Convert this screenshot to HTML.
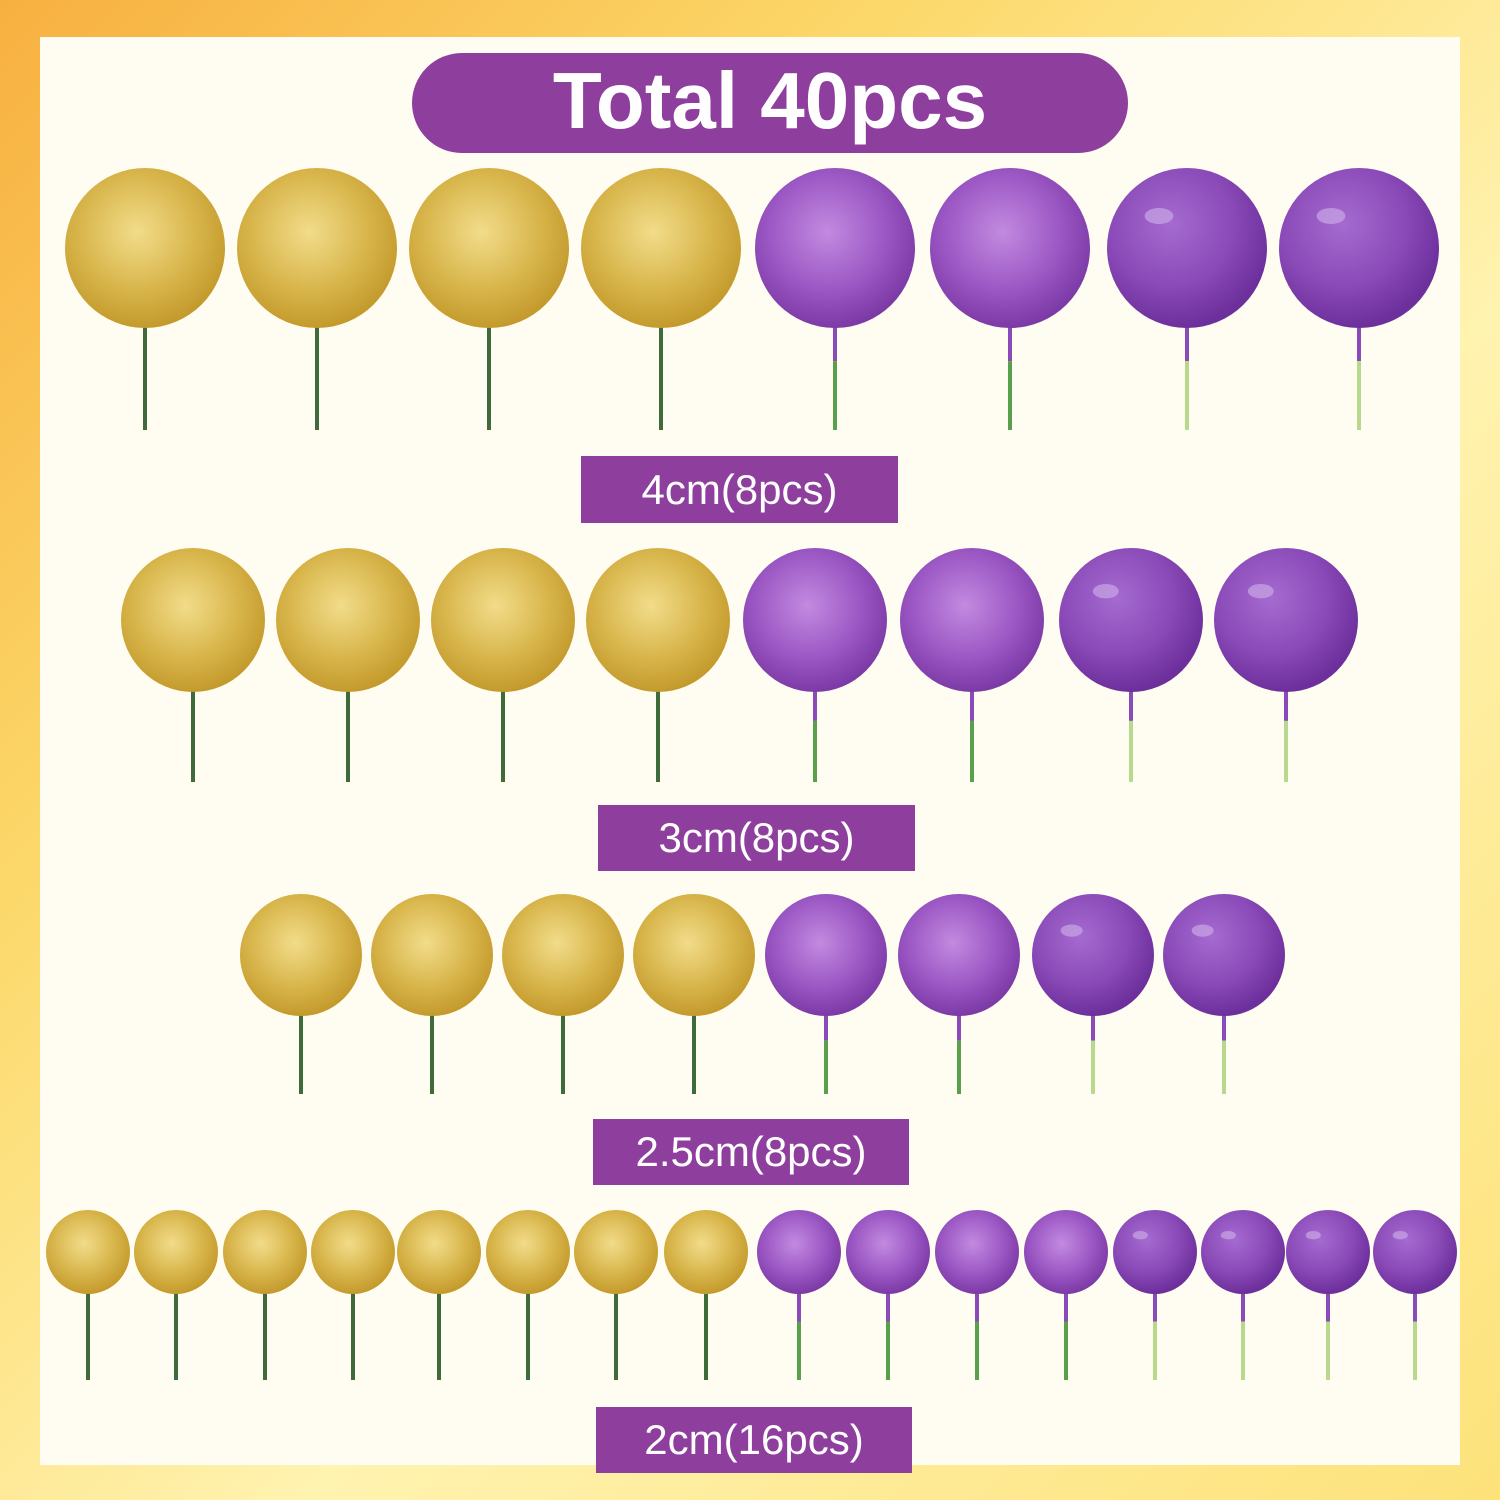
<!DOCTYPE html>
<html><head><meta charset="utf-8"><style>
html,body{margin:0;padding:0;width:1500px;height:1500px;overflow:hidden}
body{background:linear-gradient(135deg,#f7b040 0%,#fcd86a 30%,#fff3b0 60%,#fde27a 100%)}
#panel{position:absolute;left:40px;top:37px;width:1420px;height:1428px;background:#fffdf1}
.lbl{position:absolute;background:#8e3f9e;color:#fff;font-family:"Liberation Sans",sans-serif;text-align:center}
svg{position:absolute;left:0;top:0}
</style></head><body>
<div id="panel"></div>
<svg id="s" width="1500" height="1500">
<defs>
<radialGradient id="gold" cx="45%" cy="40%" r="60%"><stop offset="0" stop-color="#f2dc8a"/><stop offset="0.6" stop-color="#d8b64c"/><stop offset="1" stop-color="#c49a2c"/></radialGradient>
<radialGradient id="pg" cx="45%" cy="40%" r="60%"><stop offset="0" stop-color="#c28ae0"/><stop offset="0.6" stop-color="#9c58c4"/><stop offset="1" stop-color="#7c3aa6"/></radialGradient>
<radialGradient id="pm" cx="40%" cy="35%" r="65%"><stop offset="0" stop-color="#a56bd0"/><stop offset="0.6" stop-color="#8a4ab8"/><stop offset="1" stop-color="#6c2f9c"/></radialGradient>
</defs>
</svg>
<div class="lbl" style="left:412px;top:53px;width:716px;height:100px;border-radius:50px;font-size:80px;font-weight:bold;line-height:96px">Total 40pcs</div>
<div class="lbl" style="left:581px;top:456px;width:317px;height:67px;font-size:42px;line-height:67px">4cm(8pcs)</div>
<div class="lbl" style="left:598px;top:805px;width:317px;height:66px;font-size:42px;line-height:66px">3cm(8pcs)</div>
<div class="lbl" style="left:593px;top:1119px;width:316px;height:66px;font-size:42px;line-height:66px">2.5cm(8pcs)</div>
<div class="lbl" style="left:596px;top:1407px;width:316px;height:66px;font-size:42px;line-height:66px">2cm(16pcs)</div>
<script>
var s=document.getElementById('s'),ns='http://www.w3.org/2000/svg';
function el(t,a){var e=document.createElementNS(ns,t);for(var k in a)e.setAttribute(k,a[k]);s.appendChild(e);}
var rows=[
 {xs:[145,317,489,661,835,1010,1187,1359],y:248,r:80,b:430,t:['g','g','g','g','p','p','m','m']},
 {xs:[193,348,503,658,815,972,1131,1286],y:620,r:72,b:782,t:['g','g','g','g','p','p','m','m']},
 {xs:[301,432,563,694,826,959,1093,1224],y:955,r:61,b:1094,t:['g','g','g','g','p','p','m','m']},
 {xs:[88,176,265,353,439,528,616,706,799,888,977,1066,1155,1243,1328,1415],y:1252,r:42,b:1380,t:'ggggggggppppmmmm'.split('')}
];
rows.forEach(function(R){R.xs.forEach(function(x,i){var t=R.t[i];
 var top=R.y+R.r-4,mid=top+(R.b-top)*0.35;
 if(t=='g'){el('line',{x1:x,y1:top,x2:x,y2:R.b,stroke:'#3f6a3a','stroke-width':4});}
 else{var c=t=='p'?'#5aa04c':'#b8d88e';
  el('line',{x1:x,y1:top,x2:x,y2:mid,stroke:'#8a4ab8','stroke-width':4});
  el('line',{x1:x,y1:mid,x2:x,y2:R.b,stroke:c,'stroke-width':4});}
 el('circle',{cx:x,cy:R.y,r:R.r,fill:t=='g'?'url(#gold)':t=='p'?'url(#pg)':'url(#pm)'});
 if(t=='m'){el('ellipse',{cx:x-R.r*0.35,cy:R.y-R.r*0.4,rx:R.r*0.18,ry:R.r*0.1,fill:'#c9a6e6',opacity:0.7});}
});});
</script>
</body></html>
